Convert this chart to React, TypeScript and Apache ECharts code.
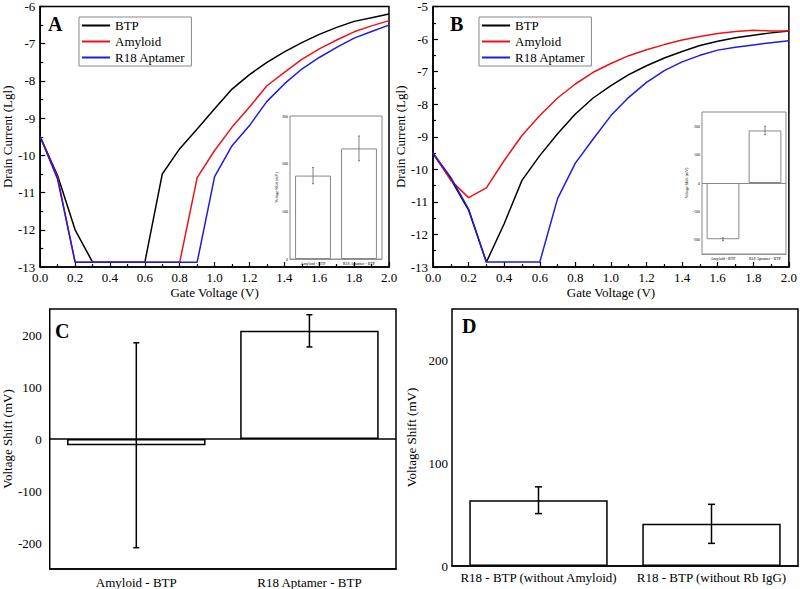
import React, { useEffect, useRef } from "react";
import * as echarts from "echarts";

const voltage = [0, 0.1, 0.2, 0.3, 0.4, 0.5, 0.6, 0.7, 0.8, 0.9, 1.0, 1.1, 1.2, 1.3, 1.4, 1.5, 1.6, 1.7, 1.8, 1.9, 2.0];

const btpA = [-9.5, -10.55, -12.0, -12.87, -12.87, -12.87, -12.87, -10.5, -9.82, -9.29, -8.75, -8.22, -7.83, -7.5, -7.22, -6.97, -6.75, -6.56, -6.4, -6.3, -6.2];
const amyloidA = [-9.5, -10.6, -12.87, -12.87, -12.87, -12.87, -12.87, -12.87, -12.87, -10.6, -9.87, -9.24, -8.7, -8.13, -7.77, -7.42, -7.14, -6.9, -6.68, -6.52, -6.38];
const r18A = [-9.5, -10.65, -12.87, -12.87, -12.87, -12.87, -12.87, -12.87, -12.87, -12.87, -10.57, -9.74, -9.2, -8.55, -8.08, -7.68, -7.37, -7.1, -6.85, -6.67, -6.5];

const btpB = [-9.52, -10.3, -11.25, -12.85, -11.67, -10.34, -9.58, -8.91, -8.3, -7.81, -7.43, -7.09, -6.82, -6.58, -6.38, -6.2, -6.07, -5.96, -5.88, -5.81, -5.75];
const amyloidB = [-9.5, -10.34, -10.87, -10.57, -9.73, -8.96, -8.35, -7.81, -7.38, -7.02, -6.75, -6.51, -6.33, -6.17, -6.03, -5.92, -5.83, -5.77, -5.73, -5.75, -5.75];
const r18B = [-9.5, -10.25, -11.22, -12.85, -12.85, -12.85, -12.85, -10.9, -9.81, -9.07, -8.35, -7.79, -7.33, -6.97, -6.7, -6.5, -6.34, -6.25, -6.18, -6.11, -6.05];

const seriesNames = ["BTP", "Amyloid", "R18 Aptamer"];
const seriesColors = ["#000000", "#e8141b", "#1d1ddb"];

const catsC = ["Amyloid - BTP", "R18 Aptamer - BTP"];
const valuesC = [-12, 208];
const errorsC = [197, 31];

const catsD = ["R18 - BTP (without Amyloid)", "R18 - BTP (without Rb IgG)"];
const valuesD = [64, 41];
const errorsD = [13, 19];

const catsInsetA = ["Amyloid - BTP", "R18 Aptamer - BTP"];
const valuesInsetA = [175, 232];
const errorsInsetA = [17, 26];

const catsInsetB = ["Amyloid - BTP", "R18 Aptamer - BTP"];
const valuesInsetB = [-198, 185];
const errorsInsetB = [5, 15];

const FONT = '"Liberation Serif", "Times New Roman", serif';

function pairs(xs: number[], ys: number[]) {
  return xs.map((x, i) => [x, ys[i]]);
}

function errData(vals: number[], errs: number[]) {
  return vals.map((v, i) => [i, v - errs[i], v + errs[i]]);
}

function errRender(cap: number, color: string, width: number) {
  return (params: any, api: any) => {
    const x = api.value(0);
    const lo = api.coord([x, api.value(1)]);
    const hi = api.coord([x, api.value(2)]);
    const style = { stroke: color, lineWidth: width };
    return {
      type: "group",
      children: [
        { type: "line", shape: { x1: lo[0], y1: lo[1], x2: hi[0], y2: hi[1] }, style },
        { type: "line", shape: { x1: lo[0] - cap, y1: lo[1], x2: lo[0] + cap, y2: lo[1] }, style },
        { type: "line", shape: { x1: hi[0] - cap, y1: hi[1], x2: hi[0] + cap, y2: hi[1] }, style },
      ],
    };
  };
}

const black = "#000";

function valueXAxis(gridIndex: number) {
  return {
    gridIndex,
    type: "value",
    min: 0,
    max: 2,
    interval: 0.2,
    name: "Gate Voltage (V)",
    nameLocation: "middle",
    nameGap: 19,
    nameTextStyle: { fontSize: 13, color: black, fontFamily: FONT },
    axisLine: { onZero: false, lineStyle: { color: black, width: 1.5 } },
    axisTick: { inside: true, length: 5, lineStyle: { color: black, width: 1.2 } },
    minorTick: { show: true, splitNumber: 2, length: 3, lineStyle: { color: black, width: 1.2 } },
    axisLabel: { fontSize: 13, color: black, margin: 4, fontFamily: FONT, formatter: (v: number) => v.toFixed(1) },
    splitLine: { show: false },
  };
}

function valueYAxis(gridIndex: number, min: number, max: number) {
  return {
    gridIndex,
    type: "value",
    min,
    max,
    interval: 1,
    name: "Drain Current (Lgl)",
    nameLocation: "middle",
    nameGap: 21,
    nameTextStyle: { fontSize: 13, color: black, fontFamily: FONT },
    axisLine: { onZero: false, lineStyle: { color: black, width: 1.5 } },
    axisTick: { inside: true, length: 5, lineStyle: { color: black, width: 1.2 } },
    minorTick: { show: true, splitNumber: 2, length: 3, lineStyle: { color: black, width: 1.2 } },
    axisLabel: { fontSize: 13, color: black, margin: 5, fontFamily: FONT },
    splitLine: { show: false },
  };
}

function catXAxis(gridIndex: number, cats: string[], fontSize: number, margin: number, color: string) {
  return {
    gridIndex,
    type: "category",
    data: cats,
    axisLine: { onZero: false, lineStyle: { color, width: fontSize > 6 ? 1.5 : 0.8 } },
    axisTick: { show: false },
    axisLabel: { fontSize, color: black, margin, fontFamily: FONT, interval: 0 },
    splitLine: { show: false },
  };
}

function barYAxis(gridIndex: number, min: number, max: number, interval: number, opts: any) {
  return {
    gridIndex,
    type: "value",
    min,
    max,
    interval,
    name: "Voltage Shift (mV)",
    nameLocation: "middle",
    nameGap: opts.nameGap,
    nameTextStyle: { fontSize: opts.fontSize, color: black, fontFamily: FONT },
    axisLine: { onZero: false, lineStyle: { color: opts.color, width: opts.fontSize > 6 ? 1.5 : 0.8 } },
    axisTick: { inside: true, length: opts.tick, lineStyle: { color: opts.color, width: opts.fontSize > 6 ? 1.2 : 0.6 } },
    axisLabel: {
      fontSize: opts.fontSize,
      color: black,
      margin: opts.margin,
      fontFamily: FONT,
      formatter: (v: number) => (v % 100 === 0 ? String(v) : ""),
    },
    splitLine: { show: false },
  };
}

function lineSeries(name: string, color: string, xIdx: number, ys: number[]) {
  return {
    type: "line",
    name,
    xAxisIndex: xIdx,
    yAxisIndex: xIdx,
    data: pairs(voltage, ys),
    symbol: "none",
    lineStyle: { color, width: 1.5 },
    itemStyle: { color },
    z: 3,
  };
}

function barSeries(idx: number, vals: number[], borderColor: string, borderWidth: number, width: string, zero: boolean) {
  const s: any = {
    type: "bar",
    xAxisIndex: idx,
    yAxisIndex: idx,
    data: vals,
    barWidth: width,
    itemStyle: { color: "#fff", borderColor, borderWidth },
    z: 2,
  };
  if (zero) {
    s.markLine = {
      silent: true,
      symbol: ["none", "none"],
      label: { show: false },
      lineStyle: { color: borderColor, width: borderWidth, type: "solid" },
      data: [{ yAxis: 0 }],
    };
  }
  return s;
}

function legendAt(left: number) {
  return {
    left,
    top: 17,
    orient: "vertical",
    data: seriesNames,
    selectedMode: false,
    icon: "rect",
    itemWidth: 28,
    itemHeight: 2,
    itemGap: 3,
    padding: [2, 6, 2, 3],
    borderColor: "#888",
    borderWidth: 1,
    textStyle: { fontSize: 13, color: black, fontFamily: FONT, lineHeight: 13, padding: [0, 0, 0, 0] },
  };
}

export default function App() {
  const ref = useRef<HTMLDivElement>(null);
  useEffect(() => {
    if (!ref.current) return;
    const chart = echarts.init(ref.current, null, { renderer: "svg" });
    const option: any = {
      animation: false,
      backgroundColor: "#fff",
      textStyle: { fontFamily: FONT },
      grid: [
        { left: 33, top: 6, width: 356, height: 261, show: true, borderColor: black, borderWidth: 1.5, backgroundColor: "transparent" },
        { left: 433, top: 6, width: 356, height: 261, show: true, borderColor: black, borderWidth: 1.5, backgroundColor: "transparent" },
        { left: 44, top: 309, width: 352, height: 260, show: true, borderColor: black, borderWidth: 1.5, backgroundColor: "transparent" },
        { left: 452, top: 309, width: 346, height: 257, show: true, borderColor: black, borderWidth: 1.5, backgroundColor: "transparent" },
        { left: 290, top: 116, width: 92, height: 143, show: true, borderColor: "#888", borderWidth: 1, backgroundColor: "#fff", z: 5 },
        { left: 702, top: 112, width: 84, height: 142, show: true, borderColor: "#888", borderWidth: 1, backgroundColor: "#fff", z: 5 },
      ],
      xAxis: [
        valueXAxis(0),
        valueXAxis(1),
        catXAxis(2, catsC, 13, 7, black),
        catXAxis(3, catsD, 13, 5, black),
        { ...catXAxis(4, catsInsetA, 4, 2, "#888"), z: 6 },
        { ...catXAxis(5, catsInsetB, 4, 2, "#888"), z: 6 },
      ],
      yAxis: [
        valueYAxis(0, -13, -6),
        valueYAxis(1, -13, -5),
        barYAxis(2, -250, 250, 50, { nameGap: 31, fontSize: 13, color: black, tick: 5, margin: 8 }),
        barYAxis(3, 0, 250, 50, { nameGap: 34, fontSize: 13, color: black, tick: 5, margin: 4 }),
        { ...barYAxis(4, 0, 300, 50, { nameGap: 6, fontSize: 4, color: "#888", tick: 1.5, margin: 2 }), z: 6 },
        { ...barYAxis(5, -250, 250, 50, { nameGap: 8, fontSize: 4, color: "#888", tick: 1.5, margin: 2 }), z: 6 },
      ],
      legend: [legendAt(79), legendAt(479)],
      series: [
        lineSeries(seriesNames[0], seriesColors[0], 0, btpA),
        lineSeries(seriesNames[1], seriesColors[1], 0, amyloidA),
        lineSeries(seriesNames[2], seriesColors[2], 0, r18A),
        lineSeries(seriesNames[0], seriesColors[0], 1, btpB),
        lineSeries(seriesNames[1], seriesColors[1], 1, amyloidB),
        lineSeries(seriesNames[2], seriesColors[2], 1, r18B),
        barSeries(2, valuesC, black, 1.5, "80%", true),
        barSeries(3, valuesD, black, 1.5, "80%", false),
        { ...barSeries(4, valuesInsetA, "#888", 1, "78%", false), z: 7 },
        { ...barSeries(5, valuesInsetB, "#888", 1, "78%", true), z: 7 },
        {
          type: "custom",
          xAxisIndex: 2,
          yAxisIndex: 2,
          data: errData(valuesC, errorsC),
          encode: { x: 0, y: [1, 2] },
          renderItem: errRender(3, black, 1.5),
          z: 4,
        },
        {
          type: "custom",
          xAxisIndex: 3,
          yAxisIndex: 3,
          data: errData(valuesD, errorsD),
          encode: { x: 0, y: [1, 2] },
          renderItem: errRender(3.5, black, 1.5),
          z: 4,
        },
        {
          type: "custom",
          xAxisIndex: 4,
          yAxisIndex: 4,
          data: errData(valuesInsetA, errorsInsetA),
          encode: { x: 0, y: [1, 2] },
          renderItem: errRender(1, "#666", 0.8),
          z: 8,
        },
        {
          type: "custom",
          xAxisIndex: 5,
          yAxisIndex: 5,
          data: errData(valuesInsetB, errorsInsetB),
          encode: { x: 0, y: [1, 2] },
          renderItem: errRender(1, "#666", 0.8),
          z: 8,
        },
      ],
      graphic: [
        { type: "text", left: 48, top: 14, style: { text: "A", font: `bold 20px ${FONT}`, fill: black } },
        { type: "text", left: 450, top: 14, style: { text: "B", font: `bold 20px ${FONT}`, fill: black } },
        { type: "text", left: 55, top: 321, style: { text: "C", font: `bold 20px ${FONT}`, fill: black } },
        { type: "text", left: 462, top: 316, style: { text: "D", font: `bold 20px ${FONT}`, fill: black } },
      ],
    };
    chart.setOption(option);
    return () => chart.dispose();
  }, []);
  return <div ref={ref} style={{ position: "fixed", left: 0, top: 0, width: 800, height: 589 }} />;
}
